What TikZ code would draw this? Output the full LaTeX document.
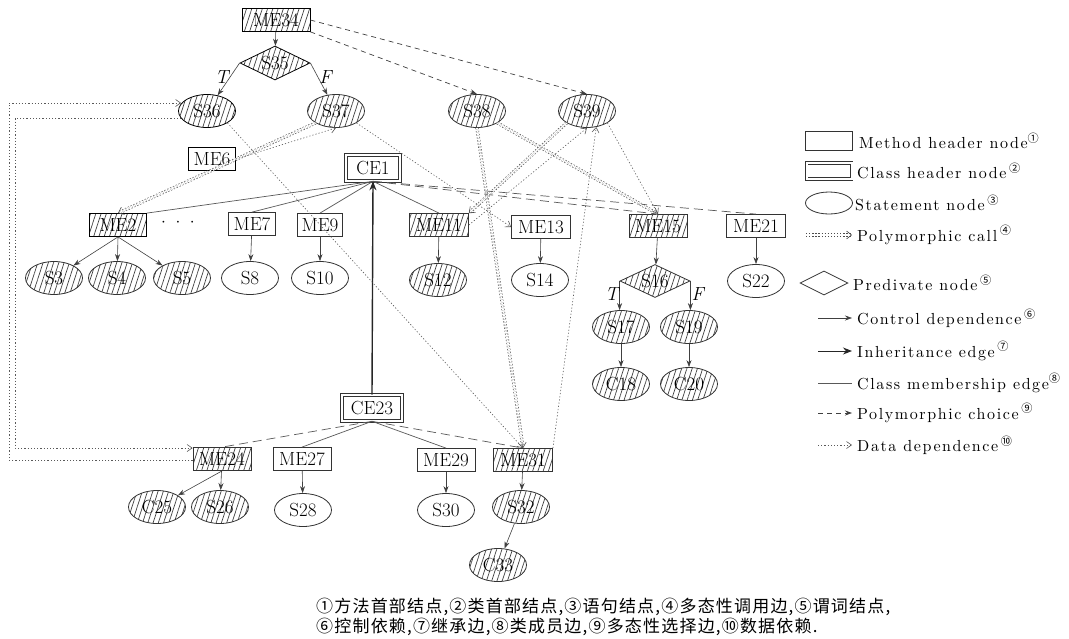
\documentclass[tikz,border=0pt]{standalone}
\usepackage{fontspec}
\newfontfamily\cjk{Noto Sans CJK SC}
\newfontfamily\cjkcap{Noto Sans CJK SC}[LetterSpace=7]
\newfontfamily\lgfont{lmroman10-regular.otf}[LetterSpace=10]
\usetikzlibrary{shapes.geometric,arrows.meta,patterns.meta,calc}
\newcommand\cnum[1]{\textsuperscript{\cjk #1}}
\tikzset{
 every node/.style={font=\fontsize{19}{21}\selectfont, text=black},
 hatch/.style={pattern={Lines[angle=72,distance=5pt,line width=0.7pt]}, pattern color=black!75},
 mh/.style={draw=black!80, line width=0.8pt, rectangle, minimum width=58pt, minimum height=23pt, inner sep=1pt},
 ch/.style={draw=black!80, line width=0.6pt, double, double distance=2pt, rectangle, minimum width=50pt, minimum height=24pt, inner sep=1pt},
 st/.style={draw=black!80, line width=0.8pt, ellipse, minimum width=57pt, minimum height=33pt, inner sep=0pt},
 pr/.style={draw=black!80, line width=0.8pt, diamond, aspect=2, minimum width=70pt, minimum height=34pt, inner sep=0pt},
 ctrl/.style={draw=black!75, line width=0.6pt, -{Stealth[length=7pt,width=5pt]}},
 inh/.style={draw=black!85, line width=1.4pt, -{Stealth[length=9pt,width=7pt]}},
 mem/.style={draw=black!65, line width=0.7pt},
 pch/.style={draw=black!65, line width=0.7pt, dash pattern=on 9pt off 5pt},
 pcho/.style={draw=black!75, line width=0.7pt, dash pattern=on 5pt off 4pt, -{Stealth[length=7pt,width=5pt]}},
 dd/.style={draw=black!65, line width=0.6pt, dash pattern=on 1.2pt off 2pt, -{Straight Barb[length=5pt,width=7pt]}},
 pcall/.style={draw=black!70, line width=0.6pt, dash pattern=on 1.3pt off 1.8pt, double, double distance=2pt, -{Straight Barb[length=5pt,width=8pt]}},
 lab/.style={font=\fontsize{19}{21}\selectfont\itshape, inner sep=1pt},
 lgtext/.style={anchor=west, font=\lgfont\fontsize{16}{18}\selectfont, inner sep=0pt},
}
\begin{document}
\begin{tikzpicture}[x=1pt,y=-1pt]
\useasboundingbox (0,0) rectangle (1069,638);
\fill[white] (0,0) rectangle (1069,638);

% ---- top method ----
\node[mh,hatch,draw=black,minimum width=68pt] (ME34) at (276,20) {ME34};
\node[pr,hatch,draw=black] (S35) at (275,63) {S35};
\node[st,hatch,draw=black] (S36) at (207,111) {S36};
\node[st,hatch] (S37) at (336,111) {S37};
\node[st,hatch] (S38) at (477,111) {S38};
\node[st,hatch] (S39) at (587,111) {S39};
\node[mh,draw=black,line width=1pt,minimum width=47pt] (ME6) at (212,159) {ME6};

% ---- class CE1 ----
\node[ch,minimum width=54pt,minimum height=26pt] (CE1) at (373,168) {CE1};
\node[mh,hatch,draw=black,minimum width=57pt] (ME2) at (118,225) {ME2};
\node (dots) at (178,223) {$\cdot\ \cdot\ \cdot$};
\node[mh,minimum width=47pt] (ME7) at (252,224) {ME7};
\node[mh,minimum width=45pt] (ME9) at (320,225) {ME9};
\node[mh,hatch,minimum width=59pt] (ME11) at (439,225) {ME11};
\node[mh,minimum width=59pt] (ME13) at (541,227) {ME13};
\node[mh,hatch,minimum width=58pt] (ME15) at (658,226) {ME15};
\node[mh,minimum width=59pt] (ME21) at (756,226) {ME21};

\node[st,hatch] (S3) at (54,278) {S3};
\node[st,hatch] (S4) at (117,278) {S4};
\node[st,hatch] (S5) at (182,278) {S5};
\node[st] (S8) at (250,278) {S8};
\node[st] (S10) at (320,278) {S10};
\node[st,hatch] (S12) at (438,280) {S12};
\node[st] (S14) at (540,280) {S14};
\node[pr,hatch,minimum height=33pt] (S16) at (655,281) {S16};
\node[st] (S22) at (756,281) {S22};
\node[st,hatch] (S17) at (621,327) {S17};
\node[st,hatch] (S19) at (689,327) {S19};
\node[st,hatch] (C18) at (621,384) {C18};
\node[st,hatch] (C20) at (689,384) {C20};

% ---- class CE23 ----
\node[ch,minimum width=60pt,minimum height=26pt] (CE23) at (372,408) {CE23};
\node[mh,hatch,minimum width=58pt] (ME24) at (222,459) {ME24};
\node[mh,minimum width=58pt] (ME27) at (302,459) {ME27};
\node[mh,minimum width=58pt] (ME29) at (446,460) {ME29};
\node[mh,hatch,minimum width=59pt] (ME31) at (523,460) {ME31};
\node[st,hatch] (C25) at (157,507) {C25};
\node[st,hatch] (S26) at (220,507) {S26};
\node[st] (S28) at (303,510) {S28};
\node[st] (S30) at (446,510) {S30};
\node[st,hatch] (S32) at (521,507) {S32};
\node[st,hatch] (C33) at (498,565) {C33};

% ---- control dependence ----
\draw[ctrl] (ME34) -- (S35);
\draw[ctrl] (S35.west) -- (S36) node[lab,pos=0.45,left] {T};
\draw[ctrl] (S35.east) -- (S37) node[lab,pos=0.45,right] {F};
\draw[ctrl] (ME2.south) -- (S3);
\draw[ctrl] (ME2.south) -- (S4);
\draw[ctrl] (ME2.south) -- (S5);
\draw[ctrl] (ME7) -- (S8);
\draw[ctrl] (ME9) -- (S10);
\draw[ctrl] (ME11) -- (S12);
\draw[ctrl] (ME13) -- (S14);
\draw[ctrl] (ME15) -- (S16);
\draw[ctrl] (ME21) -- (S22);
\draw[ctrl] (S16.west) -- (S16.west |- S17.north) node[lab,pos=0.45,left] {T};
\draw[ctrl] (S16.east) -- (S16.east |- S19.north) node[lab,pos=0.45,right] {F};
\draw[ctrl] (S17) -- (C18);
\draw[ctrl] (S19) -- (C20);
\draw[ctrl] (ME24.south) -- (C25);
\draw[ctrl] (ME24) -- (S26);
\draw[ctrl] (ME27) -- (S28);
\draw[ctrl] (ME29) -- (S30);
\draw[ctrl] (ME31) -- (S32);
\draw[ctrl] (S32) -- (C33);

% ---- inheritance ----
\draw[inh] (CE23.north) -- (CE1.south);

% ---- class membership ----
\draw[mem] (CE1.south) -- (ME2.north east);
\draw[mem] (CE1.south) -- (ME7.north);
\draw[mem] (CE1.south) -- (ME9.north);
\draw[mem] (CE1.south) -- (ME11.north);
\draw[pch] (CE1.south) -- (ME15.north);
\draw[pch] (CE1.south) -- (ME21.north);
\draw[pch] (CE23.south) -- (ME24.north);
\draw[mem] (CE23.south) -- (ME27.north);
\draw[mem] (CE23.south) -- (ME29.north);
\draw[pch] (CE23.south) -- (ME31.north);

% ---- polymorphic choice ----
\draw[pcho] (ME34.south east) -- (S38.north);
\draw[pcho] (ME34.east) -- (S39.north);

% ---- polymorphic calls ----
\coordinate (L1) at (15,448);
\coordinate (L2) at (9,460);
\draw[dd] ($(S36.west)+(3,7)$) coordinate (s36a) -- (s36a -| L1) -- (L1) -- (L1 -| ME24.west);
\draw[dd] (L2 -| ME24.west) -- (L2) -- (L2 |- {$(S36.west)+(3,-8)$}) -- ($(S36.west)+(3,-8)$);
\draw[pcall] (S37.south west) -- (ME2.north);
\draw[pcall] (S38.south) -- (ME31.north);
\draw[pcall] (S38.south east) -- (ME15.north);
\draw[pcall] (S39.south west) -- (ME11.north east);

% ---- data dependence ----
\draw[dd] (ME6.east) -- (S37.south);
\draw[dd] (S36.south east) -- (ME31.north);
\draw[dd] (S37.south east) -- (ME13.west);
\draw[dd] (ME11.east) -- (S39.south);
\draw[dd] (ME31.north east) -- (S39.300);
\draw[dd] (S39.south east) -- (ME15.north);

% ---- legend ----
\node[mh,minimum width=47pt,minimum height=19pt] (lg1) at (829,141) {};
\node[lgtext] (lt1) at (859,141) {Method header node\cnum{①}};
\node[ch,minimum width=45pt,minimum height=16pt] (lg2) at (829,171) {};
\node[lgtext] (lt2) at (857,171) {Class header node\,\cnum{②}};
\node[st,minimum width=47pt,minimum height=22pt] (lg3) at (829,203) {};
\node[lgtext] (lt3) at (855,203) {Statement node\,\cnum{③}};
\coordinate (l4a) at (806,235); \coordinate (l4b) at (852,235);
\draw[pcall] (l4a) -- (l4b);
\node[lgtext] (lt4) at (857,235) {Polymorphic call\,\cnum{④}};
\node[pr,minimum width=48pt,minimum height=24pt] (lg5) at (824,283) {};
\node[lgtext] (lt5) at (853,283) {Predivate node\,\cnum{⑤}};
\coordinate (l6a) at (818,318); \coordinate (l6b) at (852,318);
\draw[ctrl] (l6a) -- (l6b);
\node[lgtext] (lt6) at (857,318) {Control dependence\,\cnum{⑥}};
\coordinate (l7a) at (818,351); \coordinate (l7b) at (852,351);
\draw[inh,line width=1pt] (l7a) -- (l7b);
\node[lgtext] (lt7) at (857,351) {Inheritance edge\,\cnum{⑦}};
\coordinate (l8a) at (818,383); \coordinate (l8b) at (852,383);
\draw[mem] (l8a) -- (l8b);
\node[lgtext] (lt8) at (857,383) {Class membership edge\cnum{⑧}};
\coordinate (l9a) at (818,413); \coordinate (l9b) at (852,413);
\draw[pcho] (l9a) -- (l9b);
\node[lgtext] (lt9) at (857,413) {Polymorphic choice\,\cnum{⑨}};
\coordinate (l10a) at (818,445); \coordinate (l10b) at (852,445);
\draw[dd] (l10a) -- (l10b);
\node[lgtext] (lt10) at (857,445) {Data dependence\,\cnum{⑩}};

% ---- caption ----
\node[anchor=north west, align=left, inner sep=0pt, font=\cjkcap\fontsize{17}{19.5}\selectfont] (cap) at (316,598)
 {①方法首部结点,②类首部结点,③语句结点,④多态性调用边,⑤谓词结点,\\
  ⑥控制依赖,⑦继承边,⑧类成员边,⑨多态性选择边,⑩数据依赖.};
\end{tikzpicture}
\end{document}
